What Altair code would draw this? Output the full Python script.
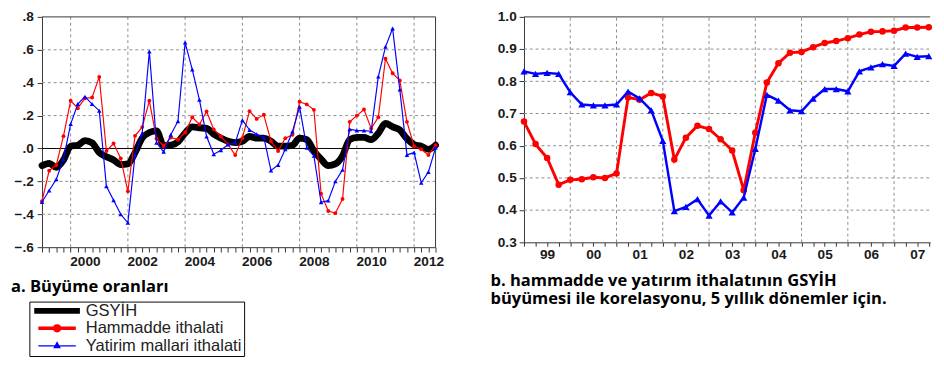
import altair as alt
import pandas as pd

# ---------------- data ----------------
# Panel a: quarterly growth rates, 1999Q1 .. 2012Q4
START_A = 1999.0
gdp = [-0.104, -0.09, -0.114, -0.07, 0.014, 0.02, 0.048, 0.034, -0.025, -0.05,
       -0.07, -0.098, -0.094, -0.025, 0.063, 0.097, 0.107, 0.018, 0.02, 0.04,
       0.093, 0.132, 0.126, 0.122, 0.087, 0.063, 0.044, 0.036, 0.044, 0.073,
       0.063, 0.063, 0.044, 0.014, 0.014, 0.02, 0.063, 0.054, -0.015, -0.065,
       -0.104, -0.094, -0.045, 0.054, 0.067, 0.067, 0.054, 0.093, 0.152, 0.132,
       0.113, 0.06, 0.024, 0.014, -0.005, 0.02]
hammadde = [-0.32, -0.135, -0.10, 0.075, 0.29, 0.245, 0.305, 0.31, 0.435, -0.015,
            0.03, -0.06, -0.26, 0.077, 0.13, 0.29, 0.06, 0.015, 0.067, 0.054,
            0.097, 0.19, 0.146, 0.225, 0.116, 0.073, 0.025, -0.04, 0.063, 0.227,
            0.18, 0.205, 0.044, -0.015, 0.063, 0.083, 0.284, 0.268, 0.235, -0.275,
            -0.38, -0.393, -0.307, 0.162, 0.2, 0.237, 0.122, 0.19, 0.546, 0.457,
            0.414, 0.162, 0.014, -0.005, -0.04, 0.02]
yatirim = [-0.325, -0.255, -0.187, -0.065, 0.148, 0.27, 0.315, 0.27, 0.23, -0.23,
           -0.315, -0.40, -0.452, -0.04, 0.093, 0.59, 0.034, -0.02, 0.083, 0.166,
           0.644, 0.48, 0.296, 0.073, -0.035, -0.011, 0.024, 0.034, 0.172, 0.113,
           0.087, 0.067, -0.134, -0.1, -0.005, 0.103, 0.253, 0.004, -0.045, -0.327,
           -0.317, -0.2, -0.13, 0.117, 0.109, 0.109, 0.105, 0.437, 0.618, 0.729,
           0.359, -0.039, -0.025, -0.209, -0.143, 0.004]

# Panel b: 5-year rolling correlations, 1999Q1 .. 2007Q4
START_B = 1999.0
kor_hammadde = [0.675, 0.605, 0.562, 0.479, 0.494, 0.496, 0.502, 0.5, 0.514, 0.75,
                0.743, 0.764, 0.753, 0.557, 0.625, 0.662, 0.652, 0.62, 0.585, 0.462,
                0.64, 0.796, 0.856, 0.889, 0.891, 0.906, 0.919, 0.925, 0.934, 0.945,
                0.954, 0.955, 0.957, 0.967, 0.967, 0.968]
kor_yatirim = [0.831, 0.823, 0.826, 0.823, 0.766, 0.728, 0.725, 0.725, 0.728, 0.768,
               0.747, 0.71, 0.615, 0.397, 0.41, 0.434, 0.383, 0.427, 0.393, 0.439,
               0.59, 0.758, 0.74, 0.71, 0.707, 0.746, 0.776, 0.776, 0.769, 0.831,
               0.843, 0.853, 0.848, 0.886, 0.876, 0.878]

series_names = ["GSYİH", "Hammadde ithalati", "Yatirim mallari ithalati"]
left_y_ticks = [-0.6, -0.4, -0.2, 0.0, 0.2, 0.4, 0.6, 0.8]
left_x_grid = [2000, 2002, 2004, 2006, 2008, 2010, 2012]
right_y_ticks = [0.3, 0.4, 0.5, 0.6, 0.7, 0.8, 0.9, 1.0]
right_x_grid = [2000, 2001, 2002, 2003, 2004, 2005, 2006, 2007]
caption_a = "a. Büyüme oranları"
caption_b = ["b. hammadde ve yatırım ithalatının GSYİH",
             "büyümesi ile korelasyonu, 5 yıllık dönemler için."]

# ---------------- tables ----------------
n_a = len(gdp)
t_a = [START_A + 0.25 * i for i in range(n_a)]
END_A = t_a[-1]
left_df = pd.DataFrame({
    "t": t_a * 3,
    "value": gdp + hammadde + yatirim,
    "series": [series_names[0]] * n_a + [series_names[1]] * n_a + [series_names[2]] * n_a,
})
n_b = len(kor_hammadde)
t_b = [START_B + 0.25 * i for i in range(n_b)]
END_B = 2007.78
right_df = pd.DataFrame({
    "t": t_b * 2,
    "value": kor_hammadde + kor_yatirim,
    "series": ["ham"] * n_b + ["yat"] * n_b,
})

RED = "#ff0000"
BLUE = "#0000ff"
GRID = "#8a8a8a"
AXC = "#333333"
LBL = "#1a1a1a"
FONT = "Liberation Sans"
CAPFONT = "Open Sans"

# ---------------- panel a ----------------
xa_scale = alt.Scale(domain=[START_A, END_A], nice=False, zero=False)
ya_scale = alt.Scale(domain=[left_y_ticks[0], left_y_ticks[-1]], nice=False, zero=False)
xa = alt.X("t:Q", scale=xa_scale,
           axis=alt.Axis(values=t_a, title=None, grid=False, orient="bottom",
                         labelExpr="(datum.value % 2 == 0.5) ? format(floor(datum.value), 'd') : ''",
                         labelOverlap=False, labelFlush=False,
                         labelFont=FONT, labelFontSize=14, labelFontWeight="bold",
                         labelColor=LBL, labelPadding=3,
                         tickColor=AXC, tickSize=5, domainColor=AXC))
ya = alt.Y("value:Q", scale=ya_scale,
           axis=alt.Axis(values=left_y_ticks, title=None, grid=False, orient="left",
                         labelExpr="replace(format(datum.value, '.1f'), '0.', '.')",
                         labelOverlap=False,
                         labelFont=FONT, labelFontSize=14, labelFontWeight="bold",
                         labelColor=LBL, labelPadding=4, tickSize=5, tickColor=AXC,
                         domainColor=AXC))
xa_plain = alt.X("t:Q", scale=xa_scale, axis=None)
ya_plain = alt.Y("value:Q", scale=ya_scale, axis=None)
xa_from = alt.X(datum=START_A, type="quantitative", scale=xa_scale, axis=None)
xa_to = alt.X2(datum=END_A)
ya_from = alt.Y(datum=left_y_ticks[0], type="quantitative", scale=ya_scale, axis=None)
ya_to = alt.Y2(datum=left_y_ticks[-1])

base_a = alt.Chart(left_df)
hgrid_a = alt.Chart(pd.DataFrame({"value": left_y_ticks[1:-1]})).mark_rule(
    color=GRID, strokeWidth=1, strokeDash=[3, 3]).encode(y=ya_plain, x=xa_from, x2=xa_to)
vgrid_a = alt.Chart(pd.DataFrame({"t": left_x_grid})).mark_rule(
    color=GRID, strokeWidth=1, strokeDash=[3, 3]).encode(x=xa_plain, y=ya_from, y2=ya_to)
frame_top_a = alt.Chart(pd.DataFrame({"value": [left_y_ticks[-1]]})).mark_rule(
    color=AXC, strokeWidth=1).encode(y=ya_plain, x=xa_from, x2=xa_to)
frame_right_a = alt.Chart(pd.DataFrame({"t": [END_A]})).mark_rule(
    color=AXC, strokeWidth=1).encode(x=xa_plain, y=ya_from, y2=ya_to)
gdp_line = base_a.transform_filter(alt.datum.series == series_names[0]).mark_line(
    color="black", strokeWidth=7, interpolate="monotone", strokeCap="round",
    strokeJoin="round").encode(x=xa, y=ya)
zero_line = alt.Chart(pd.DataFrame({"value": [0.0]})).mark_rule(
    color="black", strokeWidth=1).encode(y=ya_plain, x=xa_from, x2=xa_to)
ham_line = base_a.transform_filter(alt.datum.series == series_names[1]).mark_line(
    color=RED, strokeWidth=1.2).encode(x=xa_plain, y=ya_plain)
ham_pts = base_a.transform_filter(alt.datum.series == series_names[1]).mark_point(
    shape="circle", filled=True, color=RED, size=16, opacity=1).encode(x=xa_plain, y=ya_plain)
yat_line = base_a.transform_filter(alt.datum.series == series_names[2]).mark_line(
    color=BLUE, strokeWidth=1.2).encode(x=xa_plain, y=ya_plain)
yat_pts = base_a.transform_filter(alt.datum.series == series_names[2]).mark_point(
    shape="triangle-up", filled=True, color=BLUE, size=22, opacity=1).encode(x=xa_plain, y=ya_plain)

leg = alt.Legend(orient="none", legendX=-13, legendY=293, direction="vertical",
                 title=None, padding=2, strokeColor="black", fillColor="white",
                 clipHeight=15, symbolSize=2209, rowPadding=0, labelLimit=400,
                 labelFont=FONT, labelFontSize=17, labelColor="#222222", labelOffset=3)
leg_paths = ["M-1,0H1",
             "M-0.82,0H0.82M0.1,0A0.1,0.1,0,1,1,-0.1,0A0.1,0.1,0,1,1,0.1,0Z",
             "M-0.82,0H0.82M0,-0.14L0.12,0.08L-0.12,0.08Z"]
legend_layer = base_a.transform_filter("false").mark_point(opacity=1).encode(
    x=xa_plain, y=ya_plain,
    fill=alt.Fill("series:N", scale=alt.Scale(domain=series_names, range=["black", RED, BLUE]), legend=leg),
    stroke=alt.Stroke("series:N", scale=alt.Scale(domain=series_names, range=["black", RED, BLUE]), legend=leg),
    shape=alt.Shape("series:N", scale=alt.Scale(domain=series_names, range=leg_paths), legend=leg),
    strokeWidth=alt.StrokeWidth("series:N", scale=alt.Scale(domain=series_names, range=[6, 1.3, 1.3]), legend=leg),
)

left = alt.layer(hgrid_a, vgrid_a, frame_top_a, frame_right_a, gdp_line, zero_line,
                 ham_line, ham_pts, yat_line, yat_pts, legend_layer).resolve_axis(
    x="independent", y="independent").properties(
    width=405, height=237,
    title=alt.Title(caption_a, orient="bottom", anchor="start",
                    offset=11, dx=-3, font=CAPFONT, fontSize=17, fontWeight="bold", color="black"),
    view=alt.ViewBackground(stroke="transparent"),
)

# ---------------- panel b ----------------
xb_scale = alt.Scale(domain=[START_B, END_B], nice=False, zero=False)
yb_scale = alt.Scale(domain=[right_y_ticks[0], right_y_ticks[-1]], nice=False, zero=False)
xb = alt.X("t:Q", scale=xb_scale,
           axis=alt.Axis(values=t_b, title=None, grid=False, orient="bottom",
                         labelExpr="(datum.value % 1 == 0.5) ? format(floor(datum.value) % 100, '02d') : ''",
                         labelOverlap=False, labelFlush=False,
                         labelFont=FONT, labelFontSize=14, labelFontWeight="bold",
                         labelColor=LBL, labelPadding=2,
                         tickColor=AXC, tickSize=4, domainColor=AXC))
yb = alt.Y("value:Q", scale=yb_scale,
           axis=alt.Axis(values=right_y_ticks, title=None, format=".1f", grid=False, orient="left",
                         labelOverlap=False,
                         labelFont=FONT, labelFontSize=14, labelFontWeight="bold",
                         labelColor=LBL, labelPadding=3, tickSize=5, tickColor=AXC,
                         domainColor=AXC))
xb_plain = alt.X("t:Q", scale=xb_scale, axis=None)
yb_plain = alt.Y("value:Q", scale=yb_scale, axis=None)
xb_from = alt.X(datum=START_B, type="quantitative", scale=xb_scale, axis=None)
xb_to = alt.X2(datum=END_B)
yb_from = alt.Y(datum=right_y_ticks[0], type="quantitative", scale=yb_scale, axis=None)
yb_to = alt.Y2(datum=right_y_ticks[-1])

base_b = alt.Chart(right_df)
hgrid_b = alt.Chart(pd.DataFrame({"value": right_y_ticks[1:-1]})).mark_rule(
    color=GRID, strokeWidth=1, strokeDash=[3, 3]).encode(y=yb_plain, x=xb_from, x2=xb_to)
vgrid_b = alt.Chart(pd.DataFrame({"t": right_x_grid})).mark_rule(
    color=GRID, strokeWidth=1, strokeDash=[3, 3]).encode(x=xb_plain, y=yb_from, y2=yb_to)
top_line = alt.Chart(pd.DataFrame({"value": [right_y_ticks[-1]]})).mark_rule(
    color=AXC, strokeWidth=1).encode(y=yb_plain, x=xb_from, x2=xb_to)
kh_line = base_b.transform_filter(alt.datum.series == "ham").mark_line(
    color=RED, strokeWidth=3).encode(x=xb, y=yb)
kh_pts = base_b.transform_filter(alt.datum.series == "ham").mark_point(
    shape="circle", filled=True, color=RED, size=45, opacity=1).encode(x=xb_plain, y=yb_plain)
ky_line = base_b.transform_filter(alt.datum.series == "yat").mark_line(
    color=BLUE, strokeWidth=2.5).encode(x=xb_plain, y=yb_plain)
ky_pts = base_b.transform_filter(alt.datum.series == "yat").mark_point(
    shape="triangle-up", filled=True, color=BLUE, size=55, opacity=1).encode(x=xb_plain, y=yb_plain)

right = alt.layer(hgrid_b, vgrid_b, top_line, kh_line, kh_pts, ky_line, ky_pts).resolve_axis(
    x="independent", y="independent").properties(
    width=418, height=232,
    title=alt.Title(caption_b, orient="bottom", anchor="start",
                    offset=12, dx=-7, font=CAPFONT, fontSize=17, fontWeight="bold",
                    color="black", lineHeight=18),
    view=alt.ViewBackground(stroke="transparent"),
)

chart = alt.hconcat(left, right, spacing=47).properties(
    padding={"left": 2, "top": -4, "right": 0, "bottom": 0},
    background="white",
)

chart.save("out.html", embed_options={"renderer": "svg", "actions": False})
